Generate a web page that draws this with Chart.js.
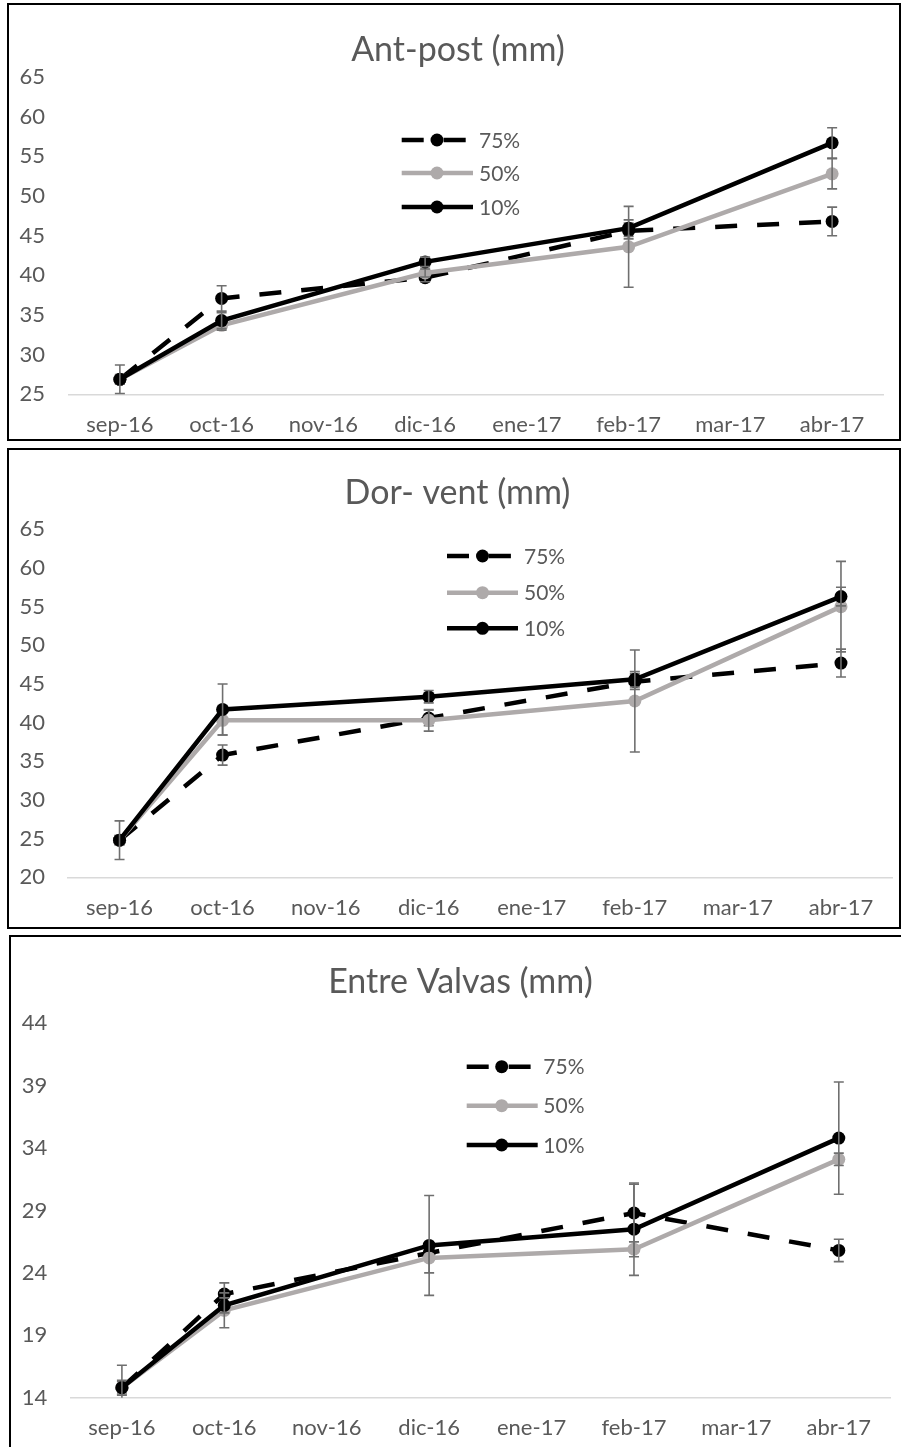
<!DOCTYPE html>
<html>
<head>
<meta charset="utf-8">
<script src="https://cdn.jsdelivr.net/npm/chart.js@4/dist/chart.umd.min.js"></script>
<style>
  html, body { margin: 0; padding: 0; background: #fff; }
  body { width: 901px; height: 1447px; position: relative; overflow: hidden; }
  .box { position: absolute; border: 2px solid #000; box-sizing: border-box; background: #fff; }
  .box canvas { position: absolute; left: 0; top: 0; }
</style>
</head>
<body>
<div class="box" style="left:7px;top:3px;width:894px;height:438px;"><canvas id="c1" width="890" height="434"></canvas></div>
<div class="box" style="left:7px;top:448px;width:894px;height:481px;"><canvas id="c2" width="890" height="477"></canvas></div>
<div class="box" style="left:9px;top:935px;width:900px;height:520px;"><canvas id="c3" width="890" height="510"></canvas></div>
<script>
// Sampling months
const months = ['sep-16', 'oct-16', 'nov-16', 'dic-16', 'ene-17', 'feb-17', 'mar-17', 'abr-17'];
const seriesNames = ['75%', '50%', '10%'];

// Antero-posterior length (mm): means and error (±)
const antPost75 = [26.9, 37.1, null, 39.7, null, 45.6, null, 46.8];
const antPost50 = [26.9, 33.7, null, 40.3, null, 43.6, null, 52.8];
const antPost10 = [26.9, 34.3, null, 41.7, null, 45.95, null, 56.7];
const antPostErr75 = [0.6, 1.6, null, 0.5, null, 1.0, null, 1.8];
const antPostErr50 = [0.5, 0.6, null, 0.5, null, 5.1, null, 1.9];
const antPostErr10 = [1.8, 1.0, null, 0.6, null, 1.05, null, 1.9];

// Dorso-ventral length (mm)
const dorVent75 = [24.8, 35.8, null, 40.6, null, 45.3, null, 47.7];
const dorVent50 = [24.8, 40.3, null, 40.3, null, 42.8, null, 55.0];
const dorVent10 = [24.8, 41.7, null, 43.35, null, 45.6, null, 56.3];
const dorVentErr75 = [0.6, 1.3, null, 1.0, null, 1.0, null, 1.8];
const dorVentErr50 = [0.6, 1.9, null, 1.4, null, 6.6, null, 5.85];
const dorVentErr10 = [2.5, 3.3, null, 0.8, null, 1.0, null, 1.2];

// Width between valves (mm)
const valvas75 = [14.8, 22.3, null, 25.6, null, 28.8, null, 25.8];
const valvas50 = [14.8, 21.0, null, 25.2, null, 25.9, null, 33.1];
const valvas10 = [14.8, 21.4, null, 26.2, null, 27.5, null, 34.8];
const valvasErr75 = [0.6, 0.9, null, 0.6, null, 2.3, null, 0.9];
const valvasErr50 = [0.5, 1.4, null, 1.2, null, 0.6, null, 0.5];
const valvasErr10 = [1.8, 0.6, null, 4.0, null, 3.7, null, 4.5];

// Axis tick labels
const antPostTicks = [25, 30, 35, 40, 45, 50, 55, 60, 65];
const dorVentTicks = [20, 25, 30, 35, 40, 45, 50, 55, 60, 65];
const valvasTicks = [14, 19, 24, 29, 34, 39, 44];

const FONT = 'Lato';
const TEXT = '#595959';
const GREY = '#AEAAAA';

// Vertical error bars with caps, drawn right after each dataset
const errorBars = {
  id: 'errorBars',
  afterDatasetDraw(chart, args) {
    const ds = chart.data.datasets[args.index];
    if (!ds.errors) return;
    const y = chart.scales.y;
    const ctx = chart.ctx;
    const a = chart.chartArea;
    ctx.save();
    ctx.beginPath();
    ctx.rect(a.left, a.top, a.right - a.left, a.bottom - a.top);
    ctx.clip();
    ctx.strokeStyle = '#6F6F6F';
    ctx.lineWidth = 1.6;
    args.meta.data.forEach((pt, i) => {
      const v = ds.data[i], e = ds.errors[i];
      if (v == null || e == null) return;
      const x = pt.x;
      const yt = y.getPixelForValue(v + e);
      const yb = y.getPixelForValue(v - e);
      ctx.beginPath();
      ctx.moveTo(x, yt); ctx.lineTo(x, yb);
      ctx.moveTo(x - 5, yt); ctx.lineTo(x + 5, yt);
      ctx.moveTo(x - 5, yb); ctx.lineTo(x + 5, yb);
      ctx.stroke();
    });
    ctx.restore();
  }
};

// Chart heading, centred on a given point
const heading = {
  id: 'heading',
  afterDraw(chart, args, o) {
    const ctx = chart.ctx;
    ctx.save();
    ctx.fillStyle = TEXT;
    ctx.font = '34px ' + FONT;
    ctx.textAlign = 'center';
    ctx.textBaseline = 'middle';
    ctx.fillText(o.text, o.x, o.y);
    ctx.restore();
  }
};

// Legend with line + marker samples
const lineLegend = {
  id: 'lineLegend',
  afterDraw(chart, args, o) {
    const ctx = chart.ctx;
    ctx.save();
    const list = chart.data.datasets.slice().sort((a, b) => b.order - a.order);
    list.forEach((ds, k) => {
      const yy = o.rows[k];
      ctx.strokeStyle = ds.borderColor;
      ctx.lineWidth = ds.borderWidth;
      ctx.setLineDash(ds.borderDash || []);
      ctx.lineCap = 'butt';
      ctx.beginPath();
      ctx.moveTo(o.x0, yy);
      ctx.lineTo(ds.borderDash ? o.x0 + (o.x1 - o.x0) * 0.9 : o.x1, yy);
      ctx.stroke();
      ctx.setLineDash([]);
      ctx.fillStyle = ds.pointBackgroundColor;
      ctx.beginPath();
      ctx.arc(o.mx, yy, ds.pointRadius, 0, Math.PI * 2);
      ctx.fill();
      ctx.fillStyle = TEXT;
      ctx.font = '21px ' + FONT;
      ctx.textAlign = 'left';
      ctx.textBaseline = 'middle';
      ctx.fillText(ds.label, o.tx, yy + 1);
    });
    ctx.restore();
  }
};

function series(label, data, errors, color, dash, order) {
  return {
    label, data, errors, order,
    borderColor: color,
    backgroundColor: color,
    pointBackgroundColor: color,
    pointBorderColor: color,
    pointBorderWidth: 0,
    pointRadius: 6.5,
    borderWidth: 4.5,
    borderDash: dash,
    spanGaps: true,
    tension: 0,
    fill: false
  };
}

function makeChart(id, cfg) {
  return new Chart(document.getElementById(id), {
    type: 'line',
    data: {
      labels: months,
      datasets: [
        series(seriesNames[0], cfg.d75, cfg.e75, '#000000', [22, 20], 3),
        series(seriesNames[1], cfg.d50, cfg.e50, GREY, undefined, 2),
        series(seriesNames[2], cfg.d10, cfg.e10, '#000000', undefined, 1)
      ]
    },
    options: {
      responsive: false,
      animation: false,
      events: [],
      layout: { padding: { left: 0, right: cfg.padR, top: cfg.padT, bottom: 0 } },
      plugins: {
        legend: { display: false },
        tooltip: { enabled: false },
        title: { display: false },
        heading: cfg.heading,
        lineLegend: cfg.legend
      },
      scales: {
        x: {
          offset: true,
          grid: { display: false, drawTicks: false },
          border: { display: true, color: '#D9D9D9', width: 1.5 },
          ticks: { color: TEXT, font: { family: FONT, size: 22 }, padding: 17, maxRotation: 0, autoSkip: false },
          afterFit: s => { s.height = cfg.xH; }
        },
        y: {
          min: cfg.ticks[0],
          max: cfg.ticks[cfg.ticks.length - 1],
          afterBuildTicks: s => { s.ticks = cfg.ticks.map(v => ({ value: v })); },
          grid: { display: false, drawTicks: false },
          border: { display: false },
          ticks: { color: TEXT, font: { family: FONT, size: 22 }, padding: cfg.yPad },
          afterFit: s => { s.width = cfg.yW; }
        }
      }
    },
    plugins: [errorBars, heading, lineLegend]
  });
}

makeChart('c1', {
  heading: { text: 'Ant-post (mm)', x: 449, y: 45 },
  d75: antPost75, d50: antPost50, d10: antPost10,
  e75: antPostErr75, e50: antPostErr50, e10: antPostErr10,
  ticks: antPostTicks,
  padR: 16, padT: 72, yW: 60, yPad: 24, xH: 44.6,
  legend: { x0: 392.7, x1: 464, mx: 428, tx: 470, rows: [135, 168, 202] }
});

makeChart('c2', {
  heading: { text: 'Dor- vent (mm)', x: 448.5, y: 43 },
  d75: dorVent75, d50: dorVent50, d10: dorVent10,
  e75: dorVentErr75, e50: dorVentErr50, e10: dorVentErr10,
  ticks: dorVentTicks,
  padR: 6, padT: 79.3, yW: 59, yPad: 23, xH: 49.7,
  legend: { x0: 438, x1: 509, mx: 473.5, tx: 515, rows: [106, 142.7, 178.3] }
});

makeChart('c3', {
  heading: { text: 'Entre Valvas (mm)', x: 449.5, y: 44.7 },
  d75: valvas75, d50: valvas50, d10: valvas10,
  e75: valvasErr75, e50: valvasErr50, e10: valvasErr10,
  ticks: valvasTicks,
  padR: 11, padT: 86.3, yW: 59.7, yPad: 23.4, xH: 49.3,
  legend: { x0: 455.7, x1: 526.7, mx: 490.7, tx: 532.3, rows: [129.7, 168.7, 208] }
});
</script>
</body>
</html>
